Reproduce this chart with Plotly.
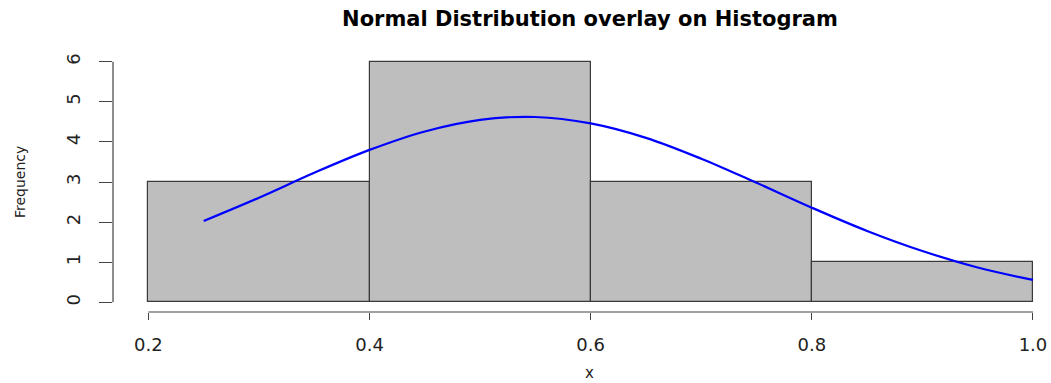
import plotly.graph_objects as go

# Histogram data
bin_edges = [0.2, 0.4, 0.6, 0.8, 1.0]
counts = [3, 6, 3, 1]

# Normal curve overlay
curve_x = [0.25, 0.30, 0.35, 0.40, 0.45, 0.50, 0.55, 0.60, 0.65, 0.70,
           0.75, 0.80, 0.85, 0.90, 0.95, 1.00]
curve_y = [2.03, 2.61, 3.23, 3.80, 4.26, 4.55, 4.62, 4.46, 4.10, 3.58,
           2.98, 2.36, 1.78, 1.28, 0.87, 0.56]

x_ticks = [0.2, 0.4, 0.6, 0.8, 1.0]
x_ticktext = ["0.2", "0.4", "0.6", "0.8", "1.0"]
y_ticks = [0, 1, 2, 3, 4, 5, 6]

centers = [(a + b) / 2 for a, b in zip(bin_edges[:-1], bin_edges[1:])]
widths = [b - a for a, b in zip(bin_edges[:-1], bin_edges[1:])]

FONT = "DejaVu Sans"
AXCOL = "#444444"
W, H = 1051, 383
L, T, B = 113, 52, 71
PW, PH = W - L, H - T - B

fig = go.Figure()
fig.add_trace(go.Bar(
    x=centers, y=counts, width=widths,
    marker=dict(color="#BEBEBE", line=dict(color="#3a3a3a", width=1.2)),
    hoverinfo="skip", showlegend=False,
))
fig.add_trace(go.Scatter(
    x=curve_x, y=curve_y, mode="lines",
    line=dict(color="#0000FF", width=2.2, shape="spline", smoothing=1.0),
    showlegend=False,
))

fig.update_layout(
    width=W, height=H,
    margin=dict(l=L, r=0, t=T, b=B),
    paper_bgcolor="white", plot_bgcolor="white",
    font=dict(family=FONT, color="#222222"),
    bargap=0,
    title=dict(text="<b>Normal Distribution overlay on Histogram</b>",
               x=590 / W, xanchor="center", xref="container",
               y=1 - 18.5 / H, yanchor="middle", yref="container",
               font=dict(family=FONT, size=21, color="#000000")),
    xaxis=dict(range=[0.168, 1.0163], showgrid=False, zeroline=False,
               showline=False, ticks="outside", ticklen=7, tickwidth=1.2,
               tickcolor=AXCOL, tickvals=x_ticks, ticktext=x_ticktext,
               tickfont=dict(family=FONT, size=18, color="#222222"),
               ticklabelstandoff=9, ticklabeloverflow="allow"),
    yaxis=dict(range=[-0.24, 6.24], showgrid=False, zeroline=False,
               showline=False, ticks="outside", ticklen=13, tickwidth=1.2,
               tickcolor=AXCOL, tickvals=y_ticks, tickangle=-90,
               tickfont=dict(family=FONT, size=18, color="#222222"),
               ticklabelstandoff=12),
    shapes=[
        dict(type="line", xref="x", yref="paper",
             x0=x_ticks[0], x1=x_ticks[-1], y0=0, y1=0,
             line=dict(color=AXCOL, width=1.2)),
        dict(type="line", xref="paper", yref="y",
             x0=0, x1=0, y0=y_ticks[0], y1=y_ticks[-1],
             line=dict(color=AXCOL, width=1.2)),
    ],
    annotations=[
        dict(text="Frequency", xref="paper", yref="paper",
             x=(20 - L) / PW, y=0.5, xanchor="center", yanchor="middle",
             textangle=-90, showarrow=False,
             font=dict(family=FONT, size=14, color="#222222")),
        dict(text="x", xref="paper", yref="paper",
             x=(589 - L) / PW, y=(311.6 - 373) / PH,
             xanchor="center", yanchor="middle", showarrow=False,
             font=dict(family=FONT, size=15, color="#222222")),
    ],
)

fig.write_html(
    "out.html",
    config={"displayModeBar": False},
    default_width=f"{W}px",
    default_height=f"{H}px",
    post_script="document.documentElement.style.overflow='hidden';"
                "document.body.style.overflow='hidden';"
                "document.body.style.margin='0';"
                "document.body.style.padding='0';",
)
